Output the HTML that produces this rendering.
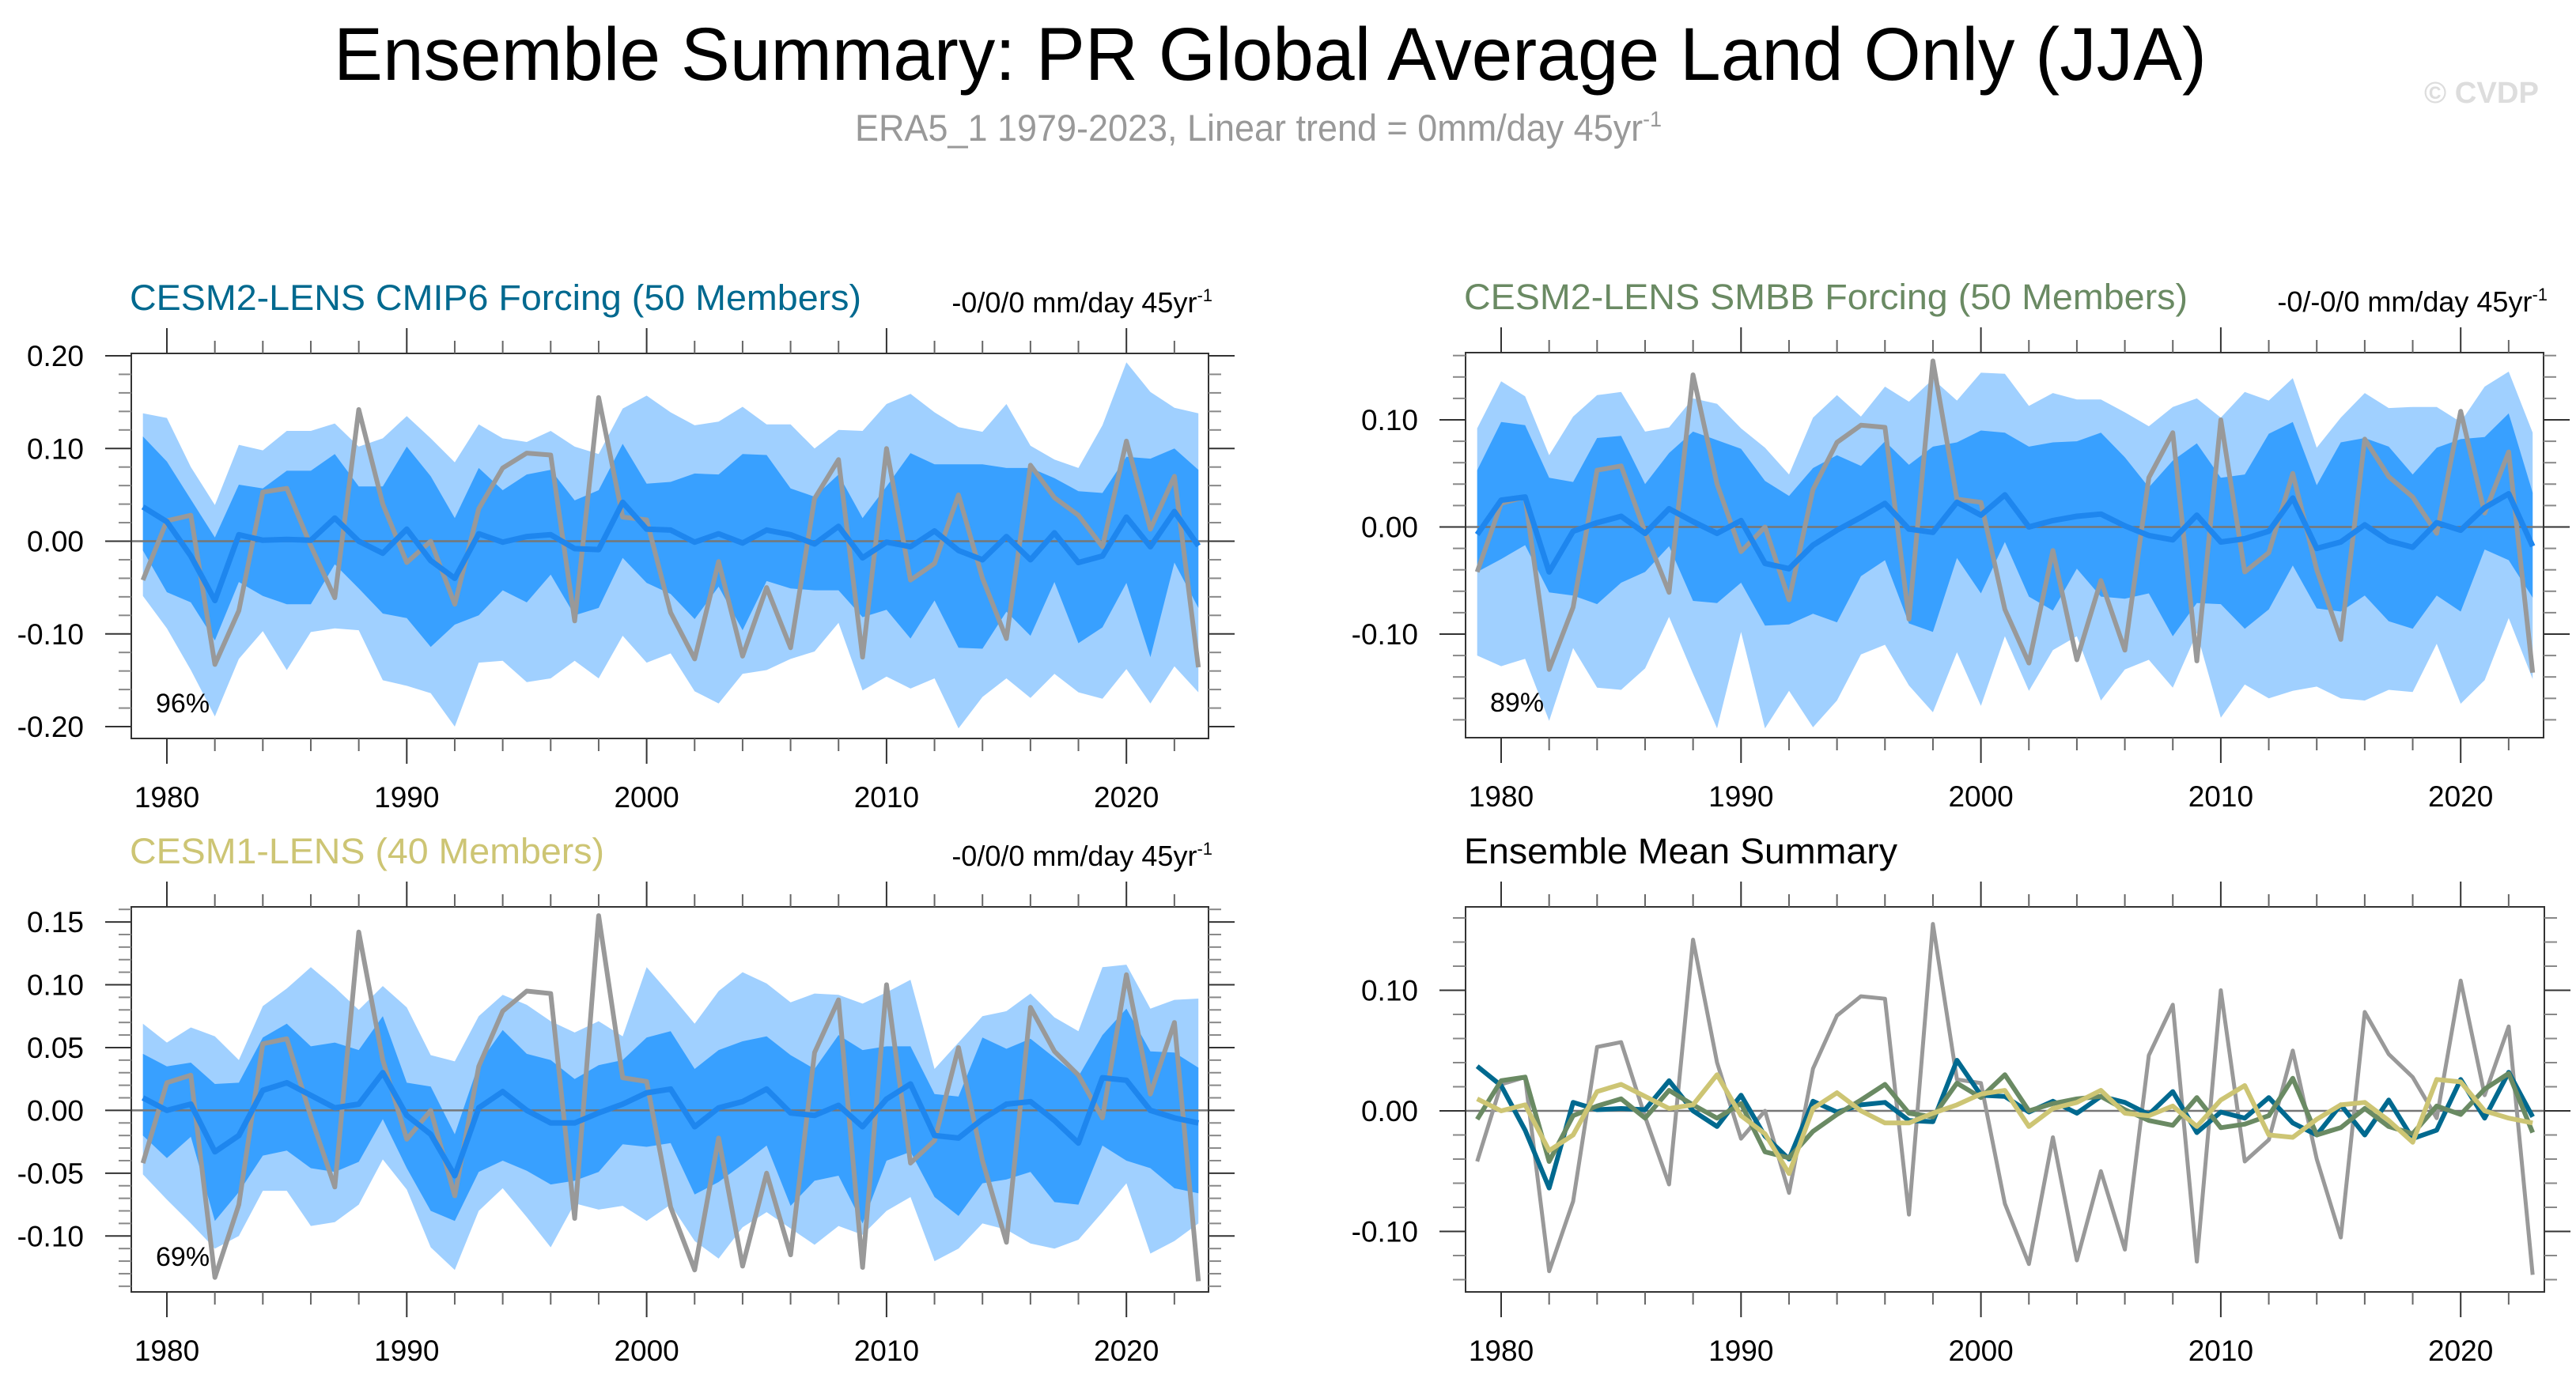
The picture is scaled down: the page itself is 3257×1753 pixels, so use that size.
<!DOCTYPE html>
<html><head><meta charset="utf-8">
<style>
html,body{margin:0;padding:0;background:#fff;}
svg{display:block;font-family:"Liberation Sans",Arial,sans-serif;}
</style></head>
<body>
<svg id="chart" width="3257" height="1753" viewBox="0 0 3257 1753" xmlns="http://www.w3.org/2000/svg">
<rect width="3257" height="1753" fill="#fff"/>
<text x="422" y="101" font-size="95" textLength="2368" lengthAdjust="spacingAndGlyphs" fill="#000">Ensemble Summary: PR Global Average Land Only (JJA)</text>
<text x="1081" y="178" font-size="47" textLength="1020" lengthAdjust="spacingAndGlyphs" fill="#999">ERA5_1 1979-2023, Linear trend = 0mm/day 45yr<tspan dy="-18" font-size="28">-1</tspan></text>
<text x="3065" y="130" font-size="38" font-weight="bold" textLength="145" lengthAdjust="spacingAndGlyphs" fill="#ddd">© CVDP</text>
<g id="plots"></g>
</svg>
<script>
const years = [];
for (let y = 1979; y <= 2023; y++) years.push(y);
const obs = [-0.042,0.022,0.028,-0.133,-0.075,0.053,0.057,-0.005,-0.061,0.142,0.04,-0.023,0.000,-0.068,0.035,0.079,0.095,0.093,-0.086,0.155,0.026,0.023,-0.077,-0.127,-0.022,-0.124,-0.05,-0.115,0.046,0.088,-0.125,0.1,-0.042,-0.024,0.05,-0.04,-0.105,0.082,0.047,0.028,-0.006,0.108,0.013,0.07,-0.136];

const cmip6Mean = [0.037,0.021,-0.016,-0.064,0.007,0.001,0.002,0.001,0.025,0,-0.013,0.013,-0.021,-0.04,0.008,-0.001,0.005,0.007,-0.008,-0.009,0.042,0.013,0.012,-0.001,0.008,-0.002,0.012,0.007,-0.003,0.016,-0.018,-0.001,-0.006,0.011,-0.01,-0.02,0.005,-0.02,0.009,-0.023,-0.016,0.026,-0.006,0.032,-0.005];
const cmip6OuterHi = [0.138,0.133,0.08,0.039,0.104,0.098,0.119,0.119,0.127,0.102,0.111,0.135,0.111,0.085,0.126,0.111,0.107,0.119,0.102,0.094,0.143,0.157,0.139,0.125,0.129,0.145,0.126,0.126,0.1,0.12,0.119,0.148,0.159,0.139,0.123,0.118,0.148,0.103,0.088,0.079,0.125,0.193,0.161,0.144,0.138];
const cmip6OuterLo = [-0.059,-0.094,-0.139,-0.189,-0.127,-0.097,-0.139,-0.098,-0.094,-0.096,-0.15,-0.156,-0.164,-0.2,-0.131,-0.129,-0.152,-0.148,-0.129,-0.148,-0.102,-0.131,-0.121,-0.162,-0.175,-0.143,-0.139,-0.127,-0.119,-0.088,-0.161,-0.146,-0.159,-0.148,-0.202,-0.168,-0.148,-0.169,-0.143,-0.163,-0.17,-0.138,-0.175,-0.135,-0.163];
const cmip6InnerHi = [0.113,0.086,0.045,0.004,0.061,0.057,0.076,0.076,0.094,0.059,0.059,0.102,0.07,0.025,0.079,0.055,0.072,0.077,0.044,0.055,0.105,0.062,0.064,0.073,0.072,0.094,0.093,0.057,0.048,0.072,0.025,0.059,0.095,0.083,0.083,0.083,0.079,0.079,0.068,0.054,0.052,0.091,0.089,0.1,0.077];
const cmip6InnerLo = [-0.01,-0.055,-0.066,-0.107,-0.044,-0.059,-0.068,-0.068,-0.025,-0.051,-0.078,-0.083,-0.114,-0.09,-0.08,-0.053,-0.066,-0.036,-0.08,-0.072,-0.018,-0.045,-0.057,-0.084,-0.049,-0.096,-0.043,-0.051,-0.053,-0.053,-0.082,-0.074,-0.105,-0.064,-0.115,-0.116,-0.076,-0.102,-0.044,-0.11,-0.093,-0.045,-0.125,-0.023,-0.072];

const smbbMean = [-0.007,0.025,0.028,-0.042,-0.004,0.004,0.01,-0.006,0.017,0.005,-0.006,0.006,-0.034,-0.039,-0.017,-0.003,0.009,0.022,-0.002,-0.005,0.023,0.011,0.03,0,0.006,0.01,0.012,0.001,-0.008,-0.012,0.011,-0.014,-0.011,-0.004,0.027,-0.02,-0.014,0.002,-0.013,-0.019,0.004,-0.003,0.018,0.031,-0.018];
const smbbOuterHi = [0.092,0.136,0.122,0.067,0.103,0.123,0.126,0.089,0.093,0.12,0.115,0.092,0.074,0.049,0.102,0.123,0.103,0.131,0.117,0.138,0.118,0.144,0.143,0.113,0.125,0.119,0.119,0.107,0.094,0.112,0.12,0.102,0.126,0.118,0.139,0.074,0.102,0.125,0.111,0.112,0.112,0.098,0.131,0.145,0.088];
const smbbOuterLo = [-0.12,-0.13,-0.123,-0.181,-0.113,-0.15,-0.152,-0.132,-0.084,-0.137,-0.188,-0.098,-0.188,-0.153,-0.187,-0.162,-0.119,-0.11,-0.148,-0.173,-0.117,-0.167,-0.102,-0.153,-0.115,-0.102,-0.162,-0.133,-0.124,-0.15,-0.099,-0.178,-0.147,-0.16,-0.153,-0.149,-0.16,-0.162,-0.152,-0.154,-0.109,-0.165,-0.143,-0.085,-0.142];
const smbbInnerHi = [0.053,0.098,0.095,0.046,0.042,0.083,0.085,0.04,0.069,0.089,0.081,0.073,0.043,0.029,0.055,0.067,0.057,0.08,0.058,0.075,0.079,0.09,0.088,0.075,0.079,0.08,0.088,0.065,0.037,0.062,0.078,0.046,0.049,0.087,0.098,0.039,0.079,0.083,0.075,0.049,0.074,0.082,0.084,0.106,0.032];
const smbbInnerLo = [-0.042,-0.03,-0.017,-0.061,-0.064,-0.072,-0.052,-0.042,-0.018,-0.069,-0.071,-0.052,-0.092,-0.091,-0.081,-0.089,-0.046,-0.031,-0.09,-0.098,-0.029,-0.062,-0.014,-0.065,-0.078,-0.039,-0.065,-0.067,-0.062,-0.102,-0.071,-0.072,-0.095,-0.077,-0.036,-0.076,-0.079,-0.064,-0.088,-0.095,-0.064,-0.079,-0.021,-0.031,-0.066];

const cesm1Mean = [0.01,0,0.005,-0.033,-0.02,0.016,0.022,0.012,0.002,0.005,0.03,-0.004,-0.019,-0.052,0.002,0.015,0,-0.01,-0.01,-0.002,0.005,0.014,0.017,-0.013,0.002,0.007,0.017,-0.002,-0.004,0.004,-0.013,0.009,0.021,-0.02,-0.022,-0.007,0.005,0.007,-0.008,-0.026,0.026,0.024,0,-0.006,-0.01];
const cesm1OuterHi = [0.069,0.054,0.066,0.059,0.04,0.083,0.097,0.114,0.098,0.08,0.099,0.082,0.044,0.039,0.075,0.092,0.084,0.071,0.062,0.071,0.059,0.114,0.092,0.069,0.095,0.11,0.101,0.086,0.093,0.092,0.085,0.094,0.104,0.033,0.054,0.075,0.079,0.093,0.074,0.063,0.114,0.116,0.081,0.088,0.089];
const cesm1OuterLo = [-0.051,-0.071,-0.09,-0.11,-0.1,-0.064,-0.064,-0.092,-0.089,-0.075,-0.039,-0.063,-0.109,-0.127,-0.08,-0.062,-0.085,-0.109,-0.074,-0.079,-0.076,-0.088,-0.075,-0.104,-0.118,-0.093,-0.081,-0.094,-0.107,-0.092,-0.099,-0.08,-0.069,-0.12,-0.11,-0.09,-0.095,-0.106,-0.11,-0.103,-0.081,-0.058,-0.114,-0.104,-0.09];
const cesm1InnerHi = [0.045,0.035,0.038,0.021,0.022,0.058,0.069,0.051,0.054,0.048,0.075,0.022,0.019,-0.019,0.037,0.064,0.045,0.04,0.025,0.036,0.04,0.058,0.063,0.033,0.048,0.055,0.059,0.044,0.033,0.06,0.048,0.051,0.051,0.013,0.011,0.058,0.049,0.057,0.042,0.027,0.06,0.081,0.047,0.046,0.034];
const cesm1InnerLo = [-0.02,-0.038,-0.021,-0.088,-0.065,-0.036,-0.032,-0.046,-0.049,-0.041,-0.007,-0.046,-0.08,-0.088,-0.049,-0.04,-0.048,-0.059,-0.056,-0.049,-0.027,-0.029,-0.026,-0.067,-0.057,-0.043,-0.028,-0.076,-0.056,-0.052,-0.09,-0.04,-0.033,-0.069,-0.084,-0.058,-0.055,-0.049,-0.073,-0.075,-0.028,-0.04,-0.046,-0.062,-0.066];

const xTickYears = [1980,1990,2000,2010,2020];

const NS = "http://www.w3.org/2000/svg";
const root = document.getElementById('plots');
function mk(tag, attrs, parent) {
  const e = document.createElementNS(NS, tag);
  for (const k in attrs) e.setAttribute(k, attrs[k]);
  (parent || root).appendChild(e);
  return e;
}

function panel(cfg) {
  const g = mk('g', {});
  
  
  const X = yr => cfg.x1980 + (yr - 1980) * 30.33;
  const Y = v => cfg.y0v - v * cfg.scale;
  const cid = 'clip-' + cfg.name;
  const cp = mk('clipPath', {id: cid}, g);
  mk('rect', {x: cfg.L, y: cfg.T, width: cfg.R - cfg.L, height: cfg.B - cfg.T}, cp);
  const plot = mk('g', {'clip-path': 'url(#' + cid + ')'}, g);
  function band(hi, lo, fill, nm) {
    let d = '';
    years.forEach((yr, i) => { d += (i ? 'L' : 'M') + X(yr).toFixed(1) + ',' + Y(hi[i]).toFixed(1); });
    for (let i = years.length - 1; i >= 0; i--) d += 'L' + X(years[i]).toFixed(1) + ',' + Y(lo[i]).toFixed(1);
    const p = mk('path', {d: d + 'Z', fill: fill}, plot);
    
    
  }
  function line(vals, color, w, nm) {
    let d = '';
    years.forEach((yr, i) => { d += (i ? 'L' : 'M') + X(yr).toFixed(1) + ',' + Y(vals[i]).toFixed(1); });
    const p = mk('path', {d: d, fill: 'none', stroke: color, 'stroke-width': w, 'stroke-linejoin': 'round'}, plot);
    
    
  }
  if (cfg.bands) {
    band(cfg.bands.oh, cfg.bands.ol, '#a0d0ff', 'outer-range-band');
    band(cfg.bands.ih, cfg.bands.il, '#38a0ff', 'inner-range-band');
  }
  const z = mk('line', {x1: cfg.L, x2: cfg.R, y1: Y(0), y2: Y(0), stroke: '#777', 'stroke-width': 2.5}, plot);
  
  
  cfg.lines.forEach(l => line(l.v, l.c, l.w, l.n));
  const fr = mk('rect', {x: cfg.L, y: cfg.T, width: cfg.R - cfg.L, height: cfg.B - cfg.T, fill: 'none', stroke: '#333', 'stroke-width': 2}, g);
  
  
  for (let yr = 1978; yr <= 2024; yr += 2) {
    const x = X(yr);
    if (x < cfg.L || x > cfg.R) continue;
    const major = yr % 10 === 0;
    const len = major ? 32 : 16;
    mk('line', {x1: x, x2: x, y1: cfg.T, y2: cfg.T - len, stroke: major ? '#333' : '#666', 'stroke-width': 2}, g);
    mk('line', {x1: x, x2: x, y1: cfg.B, y2: cfg.B + len, stroke: major ? '#333' : '#666', 'stroke-width': 2}, g);
  }
  xTickYears.forEach(yr => {
    const t = mk('text', {x: X(yr), y: cfg.B + 87, 'font-size': 37, 'text-anchor': 'middle', fill: '#000'}, g);
    t.textContent = yr;
    
    
  });
  for (let k = -400; k <= 400; k++) {
    const v = k * cfg.minor;
    const y = Y(v);
    if (y < cfg.T - 1 || y > cfg.B + 1) continue;
    const major = Math.abs(Math.round(v * 1000) % Math.round(cfg.major * 1000)) === 0;
    const len = major ? 33 : 16;
    mk('line', {x1: cfg.L, x2: cfg.L - len, y1: y, y2: y, stroke: major ? '#333' : '#888', 'stroke-width': 2}, g);
    mk('line', {x1: cfg.R, x2: cfg.R + len, y1: y, y2: y, stroke: major ? '#333' : '#888', 'stroke-width': 2}, g);
    if (major) {
      const t = mk('text', {x: cfg.L - 60, y: y + 13, 'font-size': 37, 'text-anchor': 'end', fill: '#000'}, g);
      t.textContent = v.toFixed(2);
      
      
    }
  }
  const tt = mk('text', {x: cfg.L - 2, y: cfg.T - 55, 'font-size': 45, fill: cfg.titleColor, textLength: cfg.titleLen, lengthAdjust: 'spacingAndGlyphs'}, g);
  tt.textContent = cfg.title;
  
  
  if (cfg.trend) {
    const tr = mk('text', {x: cfg.R + 5, y: cfg.T - 52, 'font-size': 36, 'text-anchor': 'end', fill: '#000'}, g);
    tr.innerHTML = cfg.trend + '<tspan dy="-14" font-size="22">-1</tspan>';
    
    
  }
  if (cfg.pct) {
    const pc = mk('text', {x: cfg.L + 31, y: cfg.B - 33, 'font-size': 34, fill: '#000'}, g);
    pc.textContent = cfg.pct;
    
    
  }
}

panel({name: 'cmip6-panel', L: 166, R: 1528, T: 447, B: 934, x1980: 211, y0v: 684.5, scale: 1172.5, minor: 0.02, major: 0.1,
  title: 'CESM2-LENS CMIP6 Forcing (50 Members)', titleLen: 925, titleColor: '#00698f', trend: '-0/0/0 mm/day 45yr', pct: '96%',
  bands: {oh: cmip6OuterHi, ol: cmip6OuterLo, ih: cmip6InnerHi, il: cmip6InnerLo},
  lines: [{v: obs, c: '#999', w: 6, n: 'observed-line'}, {v: cmip6Mean, c: '#1e86ee', w: 7, n: 'ensemble-mean-line'}]});
panel({name: 'smbb-panel', L: 1853, R: 3216, T: 446, B: 933, x1980: 1898, y0v: 666.5, scale: 1355, minor: 0.02, major: 0.1,
  title: 'CESM2-LENS SMBB Forcing (50 Members)', titleLen: 915, titleColor: '#6a8a63', trend: '-0/-0/0 mm/day 45yr', pct: '89%',
  bands: {oh: smbbOuterHi, ol: smbbOuterLo, ih: smbbInnerHi, il: smbbInnerLo},
  lines: [{v: obs, c: '#999', w: 6, n: 'observed-line'}, {v: smbbMean, c: '#1e86ee', w: 7, n: 'ensemble-mean-line'}]});
panel({name: 'cesm1-panel', L: 166, R: 1528, T: 1147, B: 1634, x1980: 211, y0v: 1404.4, scale: 1588.8, minor: 0.01, major: 0.05,
  title: 'CESM1-LENS (40 Members)', titleLen: 600, titleColor: '#cdc574', trend: '-0/0/0 mm/day 45yr', pct: '69%',
  bands: {oh: cesm1OuterHi, ol: cesm1OuterLo, ih: cesm1InnerHi, il: cesm1InnerLo},
  lines: [{v: obs, c: '#999', w: 6, n: 'observed-line'}, {v: cesm1Mean, c: '#1e86ee', w: 7, n: 'ensemble-mean-line'}]});
panel({name: 'ensemble-mean-summary-panel', L: 1853, R: 3217, T: 1147, B: 1634, x1980: 1898, y0v: 1405, scale: 1525, minor: 0.02, major: 0.1,
  title: 'Ensemble Mean Summary', titleLen: 548, titleColor: '#000', trend: null, pct: null, bands: null,
  lines: [{v: obs, c: '#999', w: 5, n: 'observed-line'},
          {v: cmip6Mean, c: '#00698f', w: 6, n: 'cmip6-mean-line'},
          {v: smbbMean, c: '#6a8a63', w: 6, n: 'smbb-mean-line'},
          {v: cesm1Mean, c: '#cdc574', w: 6, n: 'cesm1-mean-line'}]});
</script>
</body></html>
